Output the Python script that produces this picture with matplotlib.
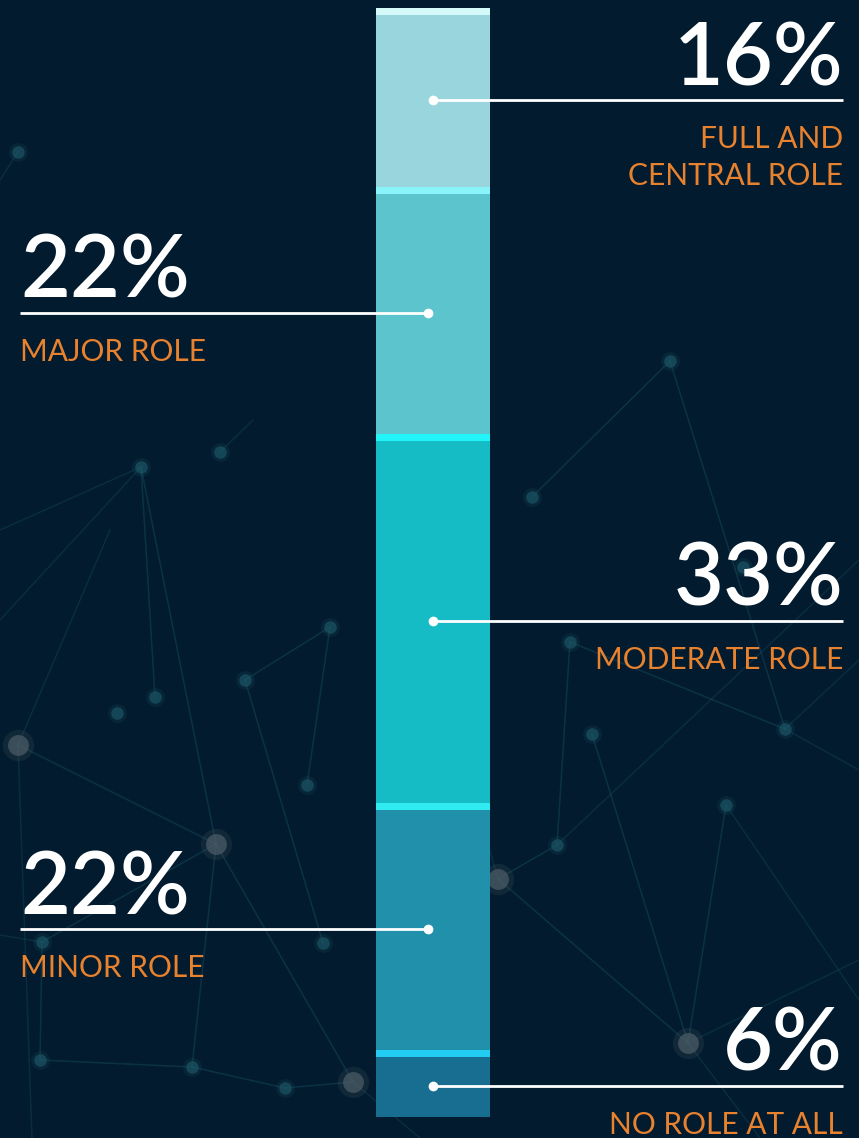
import matplotlib
matplotlib.use("Agg")
import matplotlib.pyplot as plt
import matplotlib.transforms as mtransforms
from matplotlib import font_manager

# ---------------- data ----------------
categories = ["FULL AND\nCENTRAL ROLE", "MAJOR ROLE", "MODERATE ROLE", "MINOR ROLE", "NO ROLE AT ALL"]
values = [16, 22, 33, 22, 6]
value_labels = ["16%", "22%", "33%", "22%", "6%"]
label_sides = ["right", "left", "right", "left", "right"]
body_colors = ["#98D5DC", "#5BC4CD", "#15BCC6", "#2191AB", "#186E91"]
band_colors = ["#D3F9F9", "#88F3F8", "#22F5FA", "#30ECF2", "#22CCF2"]

# ---------------- decoration (background network) ----------------
deco_nodes = {
    "a": (18, 152, "t"), "b": (141, 467, "t"), "c": (220, 452, "t"), "d": (330, 627, "t"),
    "e": (245, 680, "t"), "f": (155, 697, "t"), "g": (117, 713, "t"), "h": (18, 745, "g"),
    "i": (307, 785, "t"), "j": (216, 844, "g"), "k": (498, 879, "g"), "l": (670, 361, "t"),
    "m": (532, 497, "t"), "n": (570, 642, "t"), "o": (592, 734, "t"), "p": (785, 729, "t"),
    "q": (726, 805, "t"), "r": (557, 845, "t"), "s": (688, 1043, "g"), "t": (353, 1082, "g"),
    "u": (40, 1060, "t"), "v": (192, 1067, "t"), "w": (285, 1088, "t"), "x": (323, 943, "t"),
    "y": (42, 942, "t"), "z": (743, 567, "t"),
}
deco_edges = [
    ("b", "f"), ("b", "j"), ("d", "e"), ("d", "i"), ("h", "j"), ("j", "v"), ("j", "t"),
    ("j", "y"), ("u", "v"), ("v", "w"), ("w", "t"), ("l", "p"), ("n", "p"), ("n", "r"),
    ("o", "s"), ("k", "r"), ("k", "s"), ("m", "l"), ("q", "s"), ("y", "u"), ("e", "x"),
]
deco_edges_open = [
    ((141, 467), (0, 530)), ((141, 467), (0, 620)), ((18, 745), (110, 530)),
    ((18, 745), (32, 1138)), ((220, 452), (253, 420)), ((785, 729), (859, 660)),
    ((785, 729), (859, 770)), ((726, 805), (859, 1000)), ((353, 1082), (420, 1138)),
    ((557, 845), (859, 560)), ((688, 1043), (859, 960)), ((498, 879), (470, 780)),
    ((18, 152), (0, 180)), ((688, 1043), (760, 1138)), ((42, 942), (0, 935)),
]

BG = "#021B2E"
ORANGE = "#E8822F"

available = {f.name for f in font_manager.fontManager.ttflist}


def pick(*names):
    for n in names:
        if n in available:
            return n
    return "DejaVu Sans"


NUM_FONT = pick("Lato Semibold", "Lato Medium", "Lato")
NUM_WEIGHT = "semibold" if NUM_FONT == "Lato" else "normal"
LAB_FONT = pick("Lato Light", "Lato")

W, H = 859, 1138
fig = plt.figure(figsize=(W / 100, H / 100), dpi=100, facecolor=BG)

# background / decoration axes in pixel coordinates
ax0 = fig.add_axes([0, 0, 1, 1], zorder=0)
ax0.set_xlim(0, W)
ax0.set_ylim(H, 0)
ax0.set_facecolor(BG)
ax0.axis("off")
for a, b in deco_edges:
    x1, y1, _ = deco_nodes[a]
    x2, y2, _ = deco_nodes[b]
    ax0.plot([x1, x2], [y1, y2], color="#1B5666", lw=1.1, alpha=0.4)
for (x1, y1), (x2, y2) in deco_edges_open:
    ax0.plot([x1, x2], [y1, y2], color="#1B5666", lw=1.1, alpha=0.3)
for name, (x, y, kind) in deco_nodes.items():
    col = "#4E5E68" if kind == "g" else "#1C5565"
    ms = 15 if kind == "g" else 9
    ax0.plot([x], [y], "o", color=col, ms=ms * 1.5, alpha=0.2, mec="none")
    ax0.plot([x], [y], "o", color=col, ms=ms, alpha=0.7, mec="none")

# bar axes
total = sum(values)
bar_top_px, bar_bot_px, bar_left_px, bar_right_px = 8, 1117, 376, 490
axb = fig.add_axes([bar_left_px / W, (H - bar_bot_px) / H,
                    (bar_right_px - bar_left_px) / W, (bar_bot_px - bar_top_px) / H], zorder=2)
axb.set_xlim(0, 1)
axb.set_ylim(total, 0)
axb.axis("off")

band = 7 * total / (bar_bot_px - bar_top_px)
starts = []
s = 0
for v in values:
    starts.append(s)
    s += v
for st, v, bc, hc in zip(starts, values, body_colors, band_colors):
    axb.bar(0.5, v, bottom=st, width=1.0, color=bc, edgecolor="none")
    axb.bar(0.5, band, bottom=st, width=1.0, color=hc, edgecolor="none")

# overlay axes for leaders and text
ax2 = fig.add_axes([0, 0, 1, 1], zorder=3)
ax2.set_xlim(0, W)
ax2.set_ylim(H, 0)
ax2.axis("off")
ax2.patch.set_alpha(0)

trans = mtransforms.blended_transform_factory(ax2.transData, axb.transData)
num_tr = mtransforms.offset_copy(trans, fig=fig, x=0, y=15, units="dots")

for st, v, cat, vl, side in zip(starts, values, categories, value_labels, label_sides):
    yc = st + v / 2 + band * 0.35
    if side == "right":
        dot_x, end_x, ha, tx = 433, 843, "right", 843
    else:
        dot_x, end_x, ha, tx = 428, 20, "left", 20
    ax2.plot([dot_x, end_x], [yc, yc], color="white", lw=2.0, transform=trans,
             solid_capstyle="butt", zorder=4)
    ax2.plot([dot_x], [yc], "o", color="white", ms=7, mec="none", transform=trans, zorder=5)
    ax2.text(tx, yc, vl, transform=num_tr, ha=ha, va="baseline", color="white",
             fontsize=62, fontfamily=NUM_FONT, fontweight=NUM_WEIGHT, zorder=5)
    for li, line in enumerate(cat.split("\n")):
        lt = mtransforms.offset_copy(trans, fig=fig, x=0, y=-(48 + 37 * li), units="dots")
        ax2.text(tx, yc, line, transform=lt, ha=ha, va="baseline", color=ORANGE,
                 fontsize=21.5, fontfamily=LAB_FONT, zorder=5)

fig.savefig("out.png", dpi=100, facecolor=BG)
